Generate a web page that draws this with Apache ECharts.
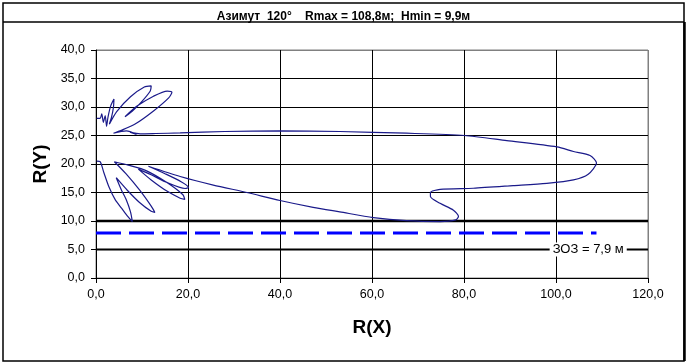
<!DOCTYPE html>
<html>
<head>
<meta charset="utf-8">
<script src="https://cdn.jsdelivr.net/npm/echarts@6/dist/echarts.min.js"></script>
<style>
html,body{margin:0;padding:0;background:#fff;}
#chart{width:687px;height:363px;}
</style>
</head>
<body>
<div id="chart"></div>
<script>
// ---- data ----
const titleText = 'Азимут  120°    Rmax = 108,8м;  Hmin = 9,9м';
const xTicks = [0, 20, 40, 60, 80, 100, 120];
const yTicks = [0, 5, 10, 15, 20, 25, 30, 35, 40];
// diagram contour, R(X)
const curveX = [
  0.15, 0.9, 1.25, 1.6, 2.0, 2.3,
  2.6, 3.2, 3.9, 3.8, 3.4, 2.9,
  4.5, 7.5, 10.5, 12.0, 11.8, 9.8, 7.8, 6.3,
  9.0, 12.5, 15.5, 16.5, 15.8, 12.5, 8.5, 5.5, 3.8,
  6.6, 8.8, 7.4, 9.6, 13.0,
  18.3, 28.0, 40.0, 53.0, 67.5, 80.1, 89.3, 100.2, 103.8, 107.4, 108.8, 107.0, 103.8,
  98.0, 90.7, 82.0, 74.8, 72.7, 72.7, 74.8, 77.7, 78.8, 78.2, 74.8, 67.5, 60.3, 53.0, 47.2, 40.0, 32.8, 25.5,
  18.3, 11.4,
  15.0, 18.5, 20.1, 19.4, 15.0, 12.0, 9.2,
  12.0, 15.5, 18.3, 19.3, 18.9, 15.5, 11.0, 7.0, 4.0,
  6.5, 9.5, 12.0, 12.8, 12.0, 9.4, 6.8, 4.4,
  5.5, 6.6, 7.5, 7.9, 6.9, 5.6, 4.2, 2.8, 1.7, 0.9, 0.15];
// diagram contour, R(Y)
const curveY = [
  28.0, 28.0, 28.8, 27.3, 28.5, 26.6,
  28.2, 30.2, 31.4, 30.0, 28.3, 27.0,
  29.2, 31.8, 33.5, 33.7, 32.8, 30.8, 29.2, 28.3,
  30.2, 31.9, 32.8, 32.6, 31.6, 29.3, 27.0, 25.9, 25.4,
  25.8, 25.2, 25.6, 25.3, 25.35,
  25.45, 25.7, 25.8, 25.7, 25.4, 25.0, 24.1, 23.0, 22.2, 21.5, 20.2, 18.2, 17.2,
  16.6, 16.2, 15.75, 15.55, 15.0, 14.3, 13.1, 11.9, 10.8, 10.2, 9.9, 10.05, 10.6, 11.6, 12.4, 13.6, 15.0, 16.3,
  17.8, 19.6,
  18.3, 16.9, 15.9, 15.7, 16.9, 18.1, 19.1,
  17.2, 15.2, 14.0, 13.8, 14.6, 16.7, 18.8, 19.8, 20.4,
  18.3, 15.4, 12.6, 11.5, 11.7, 13.3, 15.4, 17.6,
  15.5, 13.7, 11.6, 9.9, 10.8, 12.2, 13.7, 16.0, 18.5, 20.4, 20.5];
const zozLevel = 7.9;        // ЗОЗ level
const zozEndX = 108.8;       // Rmax
const refLevels = [5, 10];   // thick reference lines
const zozLabel = 'ЗОЗ = 7,9 м';
const zozLabelPos = [107, 5];

const fmt = v => v.toFixed(1).replace('.', ',');
const FONT = 'Liberation Sans, Arial, sans-serif';

const chart = echarts.init(document.getElementById('chart'), null, {renderer: 'canvas'});

const curveData = curveX.map((x, i) => [x, curveY[i]]);
const xMin = xTicks[0], xMax = xTicks[xTicks.length - 1];
const yMin = yTicks[0], yMax = yTicks[yTicks.length - 1];

const splitColorsX = xTicks.map((t, i) => i === xTicks.length - 1 ? '#808080' : '#000');
const splitColorsY = yTicks.map((t, i) => i === yTicks.length - 1 ? '#808080' : '#000');

const series = [];
refLevels.forEach((lv, i) => {
  series.push({
    type: 'line', silent: true, symbol: 'none', z: 3,
    data: [[xMin, lv], [xMax, lv]],
    lineStyle: {color: '#000', width: i === 1 ? 2.5 : 2}
  });
});
series.push({
  type: 'line', silent: true, symbol: 'none', z: 4,
  data: [[0, zozLevel], [zozEndX, zozLevel]],
  lineStyle: {color: '#0000ff', width: 3, type: [25, 8]}
});
series.push({
  type: 'line', silent: true, symbol: 'none', z: 5, smooth: 0.25,
  data: curveData,
  lineStyle: {color: '#1a1a8a', width: 1.2}
});
series.push({
  type: 'scatter', silent: true, z: 6, symbol: 'circle', symbolSize: 0,
  data: [zozLabelPos],
  label: {
    show: true, position: 'inside', formatter: zozLabel,
    fontFamily: FONT, fontSize: 13, color: '#000', opacity: 1,
    backgroundColor: '#fff', padding: [1, 3, 0, 3]
  }
});

chart.setOption({
  animation: false,
  backgroundColor: '#fff',
  title: {
    text: titleText, left: 'center', top: 6,
    textStyle: {fontFamily: FONT, fontSize: 12, fontWeight: 'bold', color: '#000'}
  },
  graphic: [
    {type: 'rect', shape: {x: 3, y: 3, width: 681, height: 358}, style: {fill: 'none', stroke: '#000', lineWidth: 1.5}, silent: true, z: -1},
    {type: 'line', shape: {x1: 3, y1: 22, x2: 684, y2: 22}, style: {stroke: '#000', lineWidth: 1.5}, silent: true},
    {type: 'line', shape: {x1: 684.5, y1: 22, x2: 684.5, y2: 361}, style: {stroke: '#000', lineWidth: 2.5}, silent: true}
  ],
  grid: {left: 96, right: 39, top: 50, bottom: 85, show: true, borderColor: '#808080', borderWidth: 1, backgroundColor: '#fff'},
  xAxis: {
    type: 'value', min: xMin, max: xMax, interval: 20,
    name: 'R(X)', nameLocation: 'middle', nameGap: 40,
    nameTextStyle: {fontFamily: FONT, fontSize: 19, fontWeight: 'bold', color: '#000'},
    axisLine: {show: true, onZero: false, lineStyle: {color: '#000', width: 1}},
    axisTick: {show: true, inside: false, length: 5, lineStyle: {color: '#000'}},
    axisLabel: {formatter: fmt, fontFamily: FONT, fontSize: 12.5, color: '#000', margin: 10},
    splitLine: {show: true, lineStyle: {color: splitColorsX, width: 1}}
  },
  yAxis: {
    type: 'value', min: yMin, max: yMax, interval: 5,
    name: 'R(Y)', nameLocation: 'middle', nameGap: 25, nameRotate: 90,
    nameTextStyle: {fontFamily: FONT, fontSize: 19, fontWeight: 'bold', color: '#000'},
    axisLine: {show: true, onZero: false, lineStyle: {color: '#000', width: 1}},
    axisTick: {show: true, inside: false, length: 5, lineStyle: {color: '#000'}},
    axisLabel: {formatter: fmt, fontFamily: FONT, fontSize: 12.5, color: '#000', margin: 11},
    splitLine: {show: true, lineStyle: {color: splitColorsY, width: 1}}
  },
  series: series
});
</script>
</body>
</html>
